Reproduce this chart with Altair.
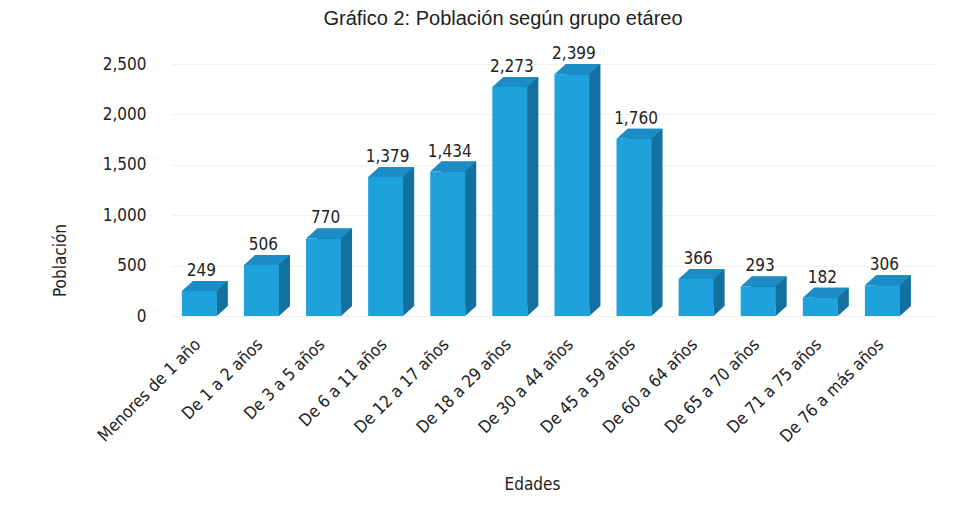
import altair as alt
import pandas as pd

categories = ["Menores de 1 año", "De 1 a 2 años", "De 3 a 5 años", "De 6 a 11 años",
              "De 12 a 17 años", "De 18 a 29 años", "De 30 a 44 años", "De 45 a 59 años",
              "De 60 a 64 años", "De 65 a 70 años", "De 71 a 75 años", "De 76 a más años"]
values = [249, 506, 770, 1379, 1434, 2273, 2399, 1760, 366, 293, 182, 306]
title_text = ["Gráfico 2: Población según grupo etáreo"]

df = pd.DataFrame({"Edades": categories, "Población": values})
df_title = pd.DataFrame({"t": title_text})

FONT = "'DejaVu Sans Condensed', Roboto, sans-serif"
FRONT = "#1FA1DB"
TOP = "#1B8CC5"
SIDE = "#13709F"
D_X, D_Y = 11, 10
HALF = 17.5

xscale = alt.Scale(domain=categories, paddingInner=0.436, paddingOuter=0.378, align=0.21)
yscale = alt.Scale(domain=[0, 2650])

x = alt.X("Edades:N", scale=xscale, sort=categories,
          axis=alt.Axis(title="Edades", labelAngle=-45, labelFont=FONT, labelFontSize=17,
                        labelColor="#222", domain=False, ticks=False, labelPadding=20,
                        labelOffset=-7,
                        titleFont=FONT, titleFontSize=17, titleFontWeight="normal",
                        titleColor="#222", titleX=360, titleY=168, titleBaseline="middle"))
y = alt.Y("Población:Q", scale=yscale,
          axis=alt.Axis(title="Población", values=[0, 500, 1000, 1500, 2000, 2500],
                        format=",.0f", labelFont=FONT, labelFontSize=17, labelColor="#222",
                        domain=False, ticks=False, labelPadding=26, gridColor="#f0f0f0",
                        titleFont=FONT, titleFontSize=17, titleFontWeight="normal",
                        titleColor="#222", titleX=-112, titleY=211, titleAngle=-90,
                        titleAlign="center", titleBaseline="middle"))

base = alt.Chart(df)

back = base.mark_bar(color=SIDE, xOffset=D_X, yOffset=-D_Y).encode(x=x, y=y)
front = base.mark_bar(color=FRONT).encode(x=x, y=y)

top_path = f"M {-HALF} 0 L {-HALF + D_X} {-D_Y} L {HALF + D_X} {-D_Y} L {HALF} 0 Z"
top_face = base.mark_point(shape=top_path, size=4, filled=True, opacity=1,
                           color=TOP, strokeWidth=0).encode(x=x, y=y)

bot_path = f"M {HALF} {-D_Y} L {HALF} 0 L {HALF + D_X} {-D_Y} Z"
bot_face = base.mark_point(shape=bot_path, size=4, filled=True, opacity=1,
                           color=SIDE, strokeWidth=0).encode(
    x=x, y=alt.Y("zero:Q", scale=yscale)).transform_calculate(zero="0")

labels = base.mark_text(font=FONT, fontSize=17, color="#222", baseline="alphabetic",
                        dy=-15, dx=2).encode(
    x=x, y=y, text=alt.Text("Población:Q", format=",.0f"))

title = alt.Chart(df_title).mark_text(font="Liberation Sans", fontSize=20, color="#222",
                                      align="center", baseline="alphabetic").encode(
    x=alt.value(331), y=alt.value(-24), text="t:N")

chart = alt.layer(back, front, top_face, bot_face, labels, title).properties(
    width=765, height=267,
    background="white",
    autosize=alt.AutoSizeParams(type="none"),
    padding={"left": 164, "top": 41, "right": 29, "bottom": 200},
).configure_view(strokeWidth=0, stroke="transparent")

chart.save("out.html", embed_options={"renderer": "svg", "actions": False})
